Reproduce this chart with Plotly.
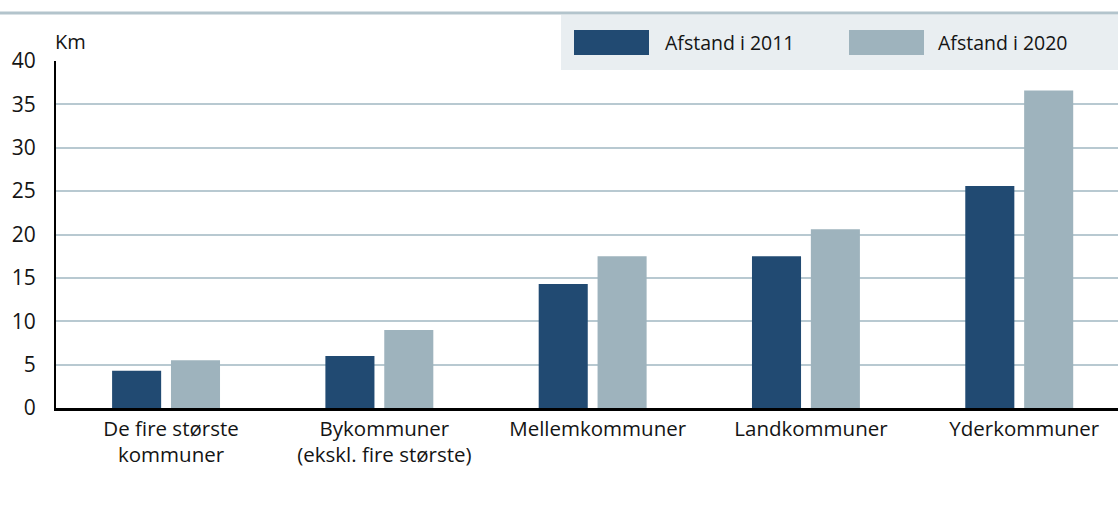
import plotly.graph_objects as go

categories = ["De fire største<br>kommuner", "Bykommuner<br>(ekskl. fire største)",
              "Mellemkommuner", "Landkommuner", "Yderkommuner"]
series_names = ["Afstand i 2011", "Afstand i 2020"]
values_2011 = [4.3, 6.0, 14.3, 17.5, 25.6]
values_2020 = [5.5, 9.0, 17.5, 20.6, 36.6]
y_ticks = [0, 5, 10, 15, 20, 25, 30, 35, 40]
colors = ["#214a72", "#9eb3bd"]

W, H = 1118, 509
L, R, T, B = 56, 0, 61, 101
PW, PH = W - L - R, H - T - B
FONT = "Open Sans"
TXT = "#141414"

def px(x):
    return (x - L) / PW

def py(y):
    return (H - B - y) / PH

fig = go.Figure()
for name, vals, col, off in [(series_names[0], values_2011, colors[0], -0.253),
                             (series_names[1], values_2020, colors[1], 0.023)]:
    fig.add_trace(go.Bar(x=categories, y=vals, name=name, marker=dict(color=col, line=dict(width=0)),
                         width=0.23, offset=off, showlegend=False, hoverinfo="skip"))

shapes = [
    dict(type="line", xref="paper", yref="paper", x0=px(0), x1=px(W), y0=py(13), y1=py(13),
         line=dict(color="#b3c4cc", width=3), layer="above"),
    dict(type="rect", xref="paper", yref="paper", x0=px(561), x1=px(W), y0=py(15), y1=py(70),
         fillcolor="#e9eef1", line=dict(width=0), layer="above"),
    dict(type="rect", xref="paper", yref="paper", x0=px(574), x1=px(649), y0=py(30), y1=py(55),
         fillcolor=colors[0], line=dict(width=0), layer="above"),
    dict(type="rect", xref="paper", yref="paper", x0=px(849), x1=px(924), y0=py(30), y1=py(55),
         fillcolor=colors[1], line=dict(width=0), layer="above"),
]
annotations = [
    dict(text=series_names[0], xref="paper", yref="paper", x=px(663), y=py(43), xanchor="left",
         yanchor="middle", showarrow=False, font=dict(size=19.5, color=TXT, family=FONT)),
    dict(text=series_names[1], xref="paper", yref="paper", x=px(936), y=py(43), xanchor="left",
         yanchor="middle", showarrow=False, font=dict(size=19.5, color=TXT, family=FONT)),
    dict(text="Km", xref="paper", yref="paper", x=px(53), y=py(42), xanchor="left",
         yanchor="middle", showarrow=False, font=dict(size=20, color=TXT, family=FONT)),
]

fig.update_layout(
    width=W, height=H, margin=dict(l=L, r=R, t=T, b=B, autoexpand=False),
    plot_bgcolor="white", paper_bgcolor="white",
    font=dict(family=FONT, size=21, color=TXT),
    shapes=shapes, annotations=annotations, showlegend=False,
    xaxis=dict(range=[-0.516, 4.463], showgrid=False, showline=True, linecolor="black",
               linewidth=3, ticks="", tickfont=dict(size=20.5), ticklabelshift=5,
               ticklabelstandoff=0),
    yaxis=dict(range=[0, 40], tickvals=y_ticks, showgrid=True, gridcolor="#b8c9d1", gridwidth=2,
               showline=True, linecolor="black", linewidth=2, ticks="", ticklabelstandoff=14,
               zeroline=False, tickfont=dict(size=21)),
)
fig.write_html("out.html", post_script="document.body.style.margin='0';",
               config={"displayModeBar": False})
